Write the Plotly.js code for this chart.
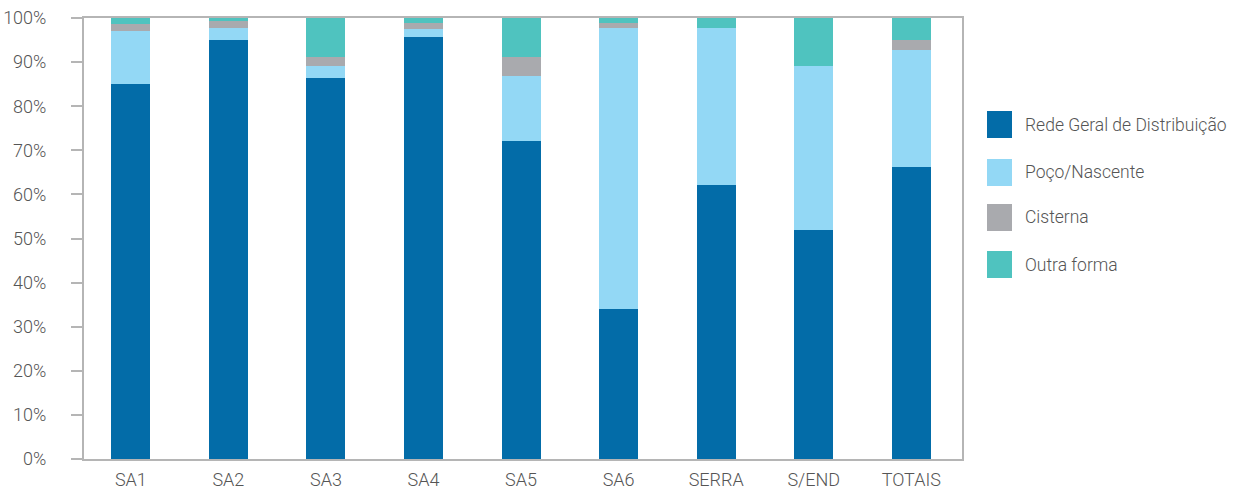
<!DOCTYPE html>
<html>
<head>
<meta charset="utf-8">
<script src="https://cdn.plot.ly/plotly-3.0.1.min.js"></script>
<style>
  html, body { margin: 0; padding: 0; background: #fff; }
  #chart { width: 1234px; height: 492px; }
</style>
</head>
<body>
<div id="chart"></div>
<script>
const categories = ["SA1", "SA2", "SA3", "SA4", "SA5", "SA6", "SERRA", "S/END", "TOTAIS"];
const seriesNames = ["Rede Geral de Distribuição", "Poço/Nascente", "Cisterna", "Outra forma"];
const rede    = [85.0, 95.0, 86.4, 95.7, 72.1, 34.0, 62.1, 51.9, 66.2];
const poco    = [12.0,  2.7,  2.7,  1.8, 14.7, 63.7, 35.6, 37.2, 26.5];
const cisterna= [ 1.6,  1.6,  2.1,  1.4,  4.4,  1.2,  0.0,  0.0,  2.3];
const outra   = [ 1.4,  0.7,  8.8,  1.1,  8.8,  1.1,  2.3, 10.9,  5.0];
const colors  = ["#036ca8", "#93d8f5", "#a9aaae", "#4fc3bf"];
const yTickVals = [0, 10, 20, 30, 40, 50, 60, 70, 80, 90, 100];
const yTickText = yTickVals.map(v => v + "%");

const seriesValues = [rede, poco, cisterna, outra];
const tickFont = { family: "Roboto, 'Open Sans', sans-serif", size: 18, color: "#555555", weight: 300 };
const legendFont = { family: "Roboto, 'Open Sans', sans-serif", size: 17.5, color: "#555555", weight: 300 };

const traces = seriesValues.map((vals, i) => ({
  type: "bar",
  name: seriesNames[i],
  x: categories,
  y: vals,
  marker: { color: colors[i], line: { width: 0 } },
  showlegend: false,
  hoverinfo: "x+y+name"
}));

// Custom legend (large square swatches + text) in paper coordinates
const plotL = 84, plotR = 962, plotT = 18, plotB = 459;
const pw = plotR - plotL, ph = plotB - plotT;
const px2x = px => (px - plotL) / pw;
const px2y = py => (plotB - py) / ph;
const legendTop = [111, 159, 204, 251];
const shapes = [];
const annotations = [];
seriesNames.forEach((name, i) => {
  const t = legendTop[i];
  shapes.push({
    type: "rect", xref: "paper", yref: "paper",
    x0: px2x(987), x1: px2x(1012), y0: px2y(t + 27), y1: px2y(t),
    fillcolor: colors[i], line: { width: 0 }
  });
  annotations.push({
    xref: "paper", yref: "paper",
    x: px2x(1023), y: px2y(t + 13.5),
    xanchor: "left", yanchor: "middle",
    text: name, showarrow: false,
    font: legendFont
  });
});

const layout = {
  width: 1234, height: 492,
  margin: { l: plotL, r: 1234 - plotR, t: plotT, b: 492 - plotB, pad: 0 },
  paper_bgcolor: "#ffffff",
  plot_bgcolor: "#ffffff",
  barmode: "stack",
  bargap: 0.6,
  showlegend: false,
  font: tickFont,
  xaxis: {
    type: "category",
    range: [-0.48, 8.52],
    showgrid: false,
    showline: true, linecolor: "#b5b5b5", linewidth: 2,
    mirror: true,
    ticks: "", ticklabelstandoff: 3,
    tickfont: tickFont,
    zeroline: false
  },
  yaxis: {
    range: [0, 100],
    tickvals: yTickVals, ticktext: yTickText,
    showgrid: false,
    showline: true, linecolor: "#b5b5b5", linewidth: 2,
    mirror: true,
    ticks: "outside", ticklen: 11, tickcolor: "#b5b5b5", tickwidth: 2,
    ticklabelstandoff: 21,
    tickfont: tickFont,
    zeroline: false
  },
  shapes: shapes,
  annotations: annotations
};

Plotly.newPlot("chart", traces, layout, { displayModeBar: false, staticPlot: true });
</script>
</body>
</html>
